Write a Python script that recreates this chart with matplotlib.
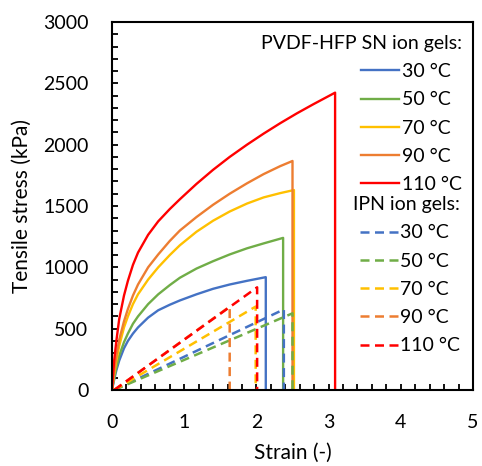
import matplotlib
matplotlib.use('Agg')
import matplotlib.pyplot as plt
from matplotlib.ticker import MultipleLocator

plt.rcParams['font.family'] = ['Lato', 'DejaVu Sans']

temps = ['30 °C', '50 °C', '70 °C', '90 °C', '110 °C']
colors = ['#4472C4', '#70AD47', '#FFC000', '#ED7D31', '#FF0000']

# PVDF-HFP SN ion gels (strain, stress in kPa)
sn_strain = [
    [0, 0.01, 0.03, 0.06, 0.1, 0.166, 0.22, 0.29, 0.36, 0.5, 0.64, 0.8, 0.94, 1.17, 1.4, 1.63, 1.87, 2.13],
    [0, 0.01, 0.03, 0.06, 0.1, 0.166, 0.22, 0.29, 0.36, 0.5, 0.64, 0.8, 0.94, 1.17, 1.4, 1.63, 1.87, 2.1, 2.37],
    [0, 0.01, 0.03, 0.06, 0.1, 0.166, 0.22, 0.29, 0.36, 0.5, 0.64, 0.8, 0.94, 1.17, 1.4, 1.63, 1.87, 2.1, 2.33, 2.52],
    [0, 0.01, 0.03, 0.06, 0.1, 0.166, 0.22, 0.29, 0.36, 0.5, 0.64, 0.8, 0.94, 1.17, 1.4, 1.63, 1.87, 2.1, 2.33, 2.50],
    [0, 0.01, 0.03, 0.06, 0.1, 0.166, 0.22, 0.29, 0.36, 0.5, 0.64, 0.8, 0.94, 1.17, 1.4, 1.63, 1.87, 2.1, 2.33, 2.56, 2.79, 3.09],
]
sn_stress = [
    [0, 30, 85, 160, 240, 340, 400, 460, 510, 590, 650, 695, 730, 780, 825, 860, 890, 920],
    [0, 35, 100, 185, 280, 390, 460, 540, 600, 700, 780, 855, 915, 990, 1050, 1105, 1155, 1195, 1240],
    [0, 45, 130, 240, 360, 510, 600, 700, 780, 900, 1000, 1100, 1180, 1290, 1380, 1455, 1520, 1570, 1605, 1630],
    [0, 50, 150, 280, 410, 560, 660, 770, 860, 1000, 1105, 1215, 1300, 1410, 1510, 1600, 1685, 1760, 1825, 1867],
    [0, 90, 240, 400, 580, 770, 890, 1020, 1120, 1265, 1375, 1475, 1555, 1680, 1795, 1900, 2000, 2090, 2175, 2255, 2330, 2424],
]

# IPN ion gels (linear up to break)
ipn_strain = [[0.03, 2.38], [0.03, 2.50], [0.03, 1.99], [0.03, 1.63], [0.03, 2.01]]
ipn_stress = [[0, 657], [0, 625], [0, 680], [0, 680], [0, 837]]

fig = plt.figure(figsize=(4.82, 4.66), dpi=100)
ax = fig.add_axes([0.2324, 0.1631, 0.7489, 0.7897])

sn_lines = []
for x, y, c, t in zip(sn_strain, sn_stress, colors, temps):
    l, = ax.plot(x + [x[-1]], y + [0], color=c, lw=1.7, label=t)
    sn_lines.append(l)

ipn_lines = []
for x, y, c, t in zip(ipn_strain, ipn_stress, colors, temps):
    l, = ax.plot(x + [x[-1]], y + [0], color=c, lw=1.8, ls=(0, (3.6, 2.2)), label=t)
    ipn_lines.append(l)

ax.set_xlim(0, 5)
ax.set_ylim(0, 3000)
ax.xaxis.set_major_locator(MultipleLocator(1))
ax.xaxis.set_minor_locator(MultipleLocator(0.2))
ax.yaxis.set_major_locator(MultipleLocator(500))
ax.yaxis.set_minor_locator(MultipleLocator(100))
ax.tick_params(which='both', direction='in', length=4, width=1.3, labelsize=14, pad=17)
for s in ax.spines.values():
    s.set_linewidth(1.5)

ax.set_xlabel('Strain (-)', fontsize=15, labelpad=9)
ax.set_ylabel('Tensile stress (kPa)', fontsize=15, labelpad=8)

leg_kw = dict(frameon=False, fontsize=14, title_fontsize=14, handlelength=1.95,
              handletextpad=0.15, labelspacing=0.58, alignment='right',
              borderpad=0, borderaxespad=0)
leg1 = ax.legend(sn_lines, temps, title='PVDF-HFP SN ion gels:', loc='upper right',
                 bbox_to_anchor=(0.97, 0.965), **leg_kw)
ax.add_artist(leg1)
ax.legend(ipn_lines, temps, title='IPN ion gels:', loc='upper right',
          bbox_to_anchor=(0.965, 0.527), **leg_kw)

fig.savefig('out.png', dpi=100)
